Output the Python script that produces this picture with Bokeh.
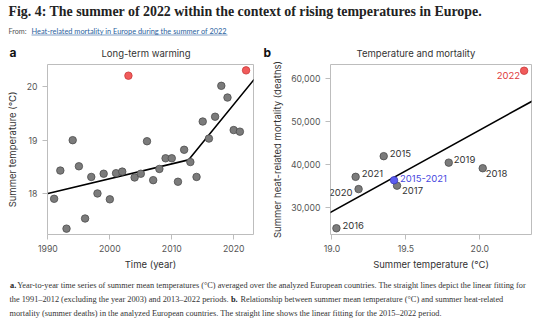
from bokeh.plotting import figure
from bokeh.layouts import column, row
from bokeh.models import ColumnDataSource, Range1d, FixedTicker, NumeralTickFormatter
from bokeh.core.properties import value
from bokeh.embed import file_html
from bokeh.resources import INLINE

# ---------------- data ----------------
years = [1991, 1992, 1993, 1994, 1995, 1996, 1997, 1998, 1999, 2000, 2001, 2002,
         2003, 2004, 2005, 2006, 2007, 2008, 2009, 2010, 2011, 2012, 2013, 2014,
         2015, 2016, 2017, 2018, 2019, 2020, 2021, 2022]
temps = [17.90, 18.43, 17.34, 19.00, 18.51, 17.53, 18.31, 18.00, 18.37, 17.89, 18.38, 18.41,
         20.21, 18.30, 18.37, 18.98, 18.25, 18.46, 18.66, 18.66, 18.22, 18.82, 18.59, 18.31,
         19.35, 19.03, 19.44, 20.02, 19.80, 19.19, 19.16, 20.31]
highlight_years = [2003, 2022]

fit_a_years = [1990.0, 2012.7, 2023.3]
fit_a_temps = [18.00, 18.63, 20.14]

b_labels = ["2015", "2016", "2017", "2018", "2019", "2020", "2021"]
b_temps = [19.35, 19.03, 19.44, 20.02, 19.79, 19.18, 19.16]
b_deaths = [41900, 25150, 35050, 39100, 40400, 34250, 37100]
b2022_temp = [20.30]
b2022_deaths = [61750]
bmean_label = ["2015-2021"]
bmean_temp = [19.42]
bmean_deaths = [36300]

fit_b_temps = [18.95, 20.40]
fit_b_deaths = [28100, 55550]

# ---------------- styles ----------------
FONT = "Inter"
GREY_FILL = "#7b7b7b"
GREY_LINE = "#4d4d4d"
RED_FILL = "#f15b5b"
RED_LINE = "#c93a3a"
BLUE_FILL = "#5c5cf0"
BLUE_LINE = "#3a3ab8"
TXT = "#333333"
FRAME = "#bdbdbd"


def style_axes(p):
    p.outline_line_color = FRAME
    p.outline_line_width = 1
    p.grid.visible = False
    for ax in (p.xaxis[0], p.yaxis[0]):
        ax.axis_line_color = None
        ax.major_tick_line_color = FRAME
        ax.major_tick_out = 5
        ax.major_tick_in = 0
        ax.minor_tick_line_color = None
        ax.major_label_text_font = FONT
        ax.major_label_text_font_size = "8.7px"
        ax.major_label_text_color = "#555555"
        ax.axis_label_text_font = FONT
        ax.axis_label_text_font_size = "9.5px"
        ax.axis_label_text_font_style = "normal"
        ax.axis_label_text_color = TXT
        ax.major_label_standoff = 5


# ---------------- header ----------------
HDR_H = 62
hdr = figure(width=537, height=HDR_H, x_range=Range1d(0, 537), y_range=Range1d(HDR_H, 0),
             output_backend="svg", toolbar_location=None, min_border=0)
hdr.axis.visible = False
hdr.grid.visible = False
hdr.outline_line_color = None
hdr.text(x=[8], y=[11], text=["Fig. 4: The summer of 2022 within the context of rising temperatures in Europe."],
         text_font=value("Liberation Serif"), text_font_style="bold", text_font_size="13.9px",
         text_color="#222222", text_baseline="middle", text_align="left")
hdr.text(x=[8], y=[31], text=["From:"], text_font=value("Lato"), text_font_size="7.2px",
         text_color="#555555", text_baseline="middle")
hdr.text(x=[31], y=[31], text=["Heat-related mortality in Europe during the summer of 2022"],
         text_font=value("Lato"), text_font_size="7.4px", text_color="#2b5f9e", text_baseline="middle")
hdr.segment(x0=[31], y0=[34.5], x1=[227], y1=[34.5], line_color="#2b5f9e", line_width=0.6)
hdr.text(x=[9, 263], y=[52, 52], text=["a", "b"], text_font=value("Inter"), text_font_style="bold",
         text_font_size="12px", text_color="#111111", text_baseline="middle")
hdr.text(x=[145.5, 415.5], y=[52.5, 52.5], text=["Long-term warming", "Temperature and mortality"],
         text_font=value(FONT), text_font_size="9.5px", text_color=TXT,
         text_baseline="middle", text_align="center")

# ---------------- panel a ----------------
pa = figure(width=268, height=210, x_range=Range1d(1989.93, 2023.2), y_range=Range1d(17.23, 20.42),
            output_backend="svg", toolbar_location=None,
            min_border_left=47, min_border_right=15, min_border_top=2, min_border_bottom=34)
style_axes(pa)
pa.xaxis.ticker = FixedTicker(ticks=[1990, 2000, 2010, 2020])
pa.yaxis.ticker = FixedTicker(ticks=[18, 19, 20])
pa.xaxis.axis_label = "Time (year)"
pa.yaxis.axis_label = "Summer temperature (°C)"
pa.xaxis.axis_label_standoff = 4
pa.yaxis.axis_label_standoff = 6

pa.line(fit_a_years, fit_a_temps, line_color="black", line_width=1.6)
norm = [(y, t) for y, t in zip(years, temps) if y not in highlight_years]
hi = [(y, t) for y, t in zip(years, temps) if y in highlight_years]
pa.scatter([y for y, _ in norm], [t for _, t in norm], size=7.5, fill_color=GREY_FILL,
           line_color=GREY_LINE, line_width=0.8)
pa.scatter([y for y, _ in hi], [t for _, t in hi], size=7.5, fill_color=RED_FILL,
           line_color=RED_LINE, line_width=0.8)

# ---------------- panel b ----------------
pb = figure(width=269, height=210, x_range=Range1d(18.99, 20.35), y_range=Range1d(23700, 63200),
            output_backend="svg", toolbar_location=None,
            min_border_left=57, min_border_right=6, min_border_top=2, min_border_bottom=34)
style_axes(pb)
pb.xaxis.ticker = FixedTicker(ticks=[19.0, 19.5, 20.0])
pb.xaxis.formatter = NumeralTickFormatter(format="0.0")
pb.yaxis.ticker = FixedTicker(ticks=[30000, 40000, 50000, 60000])
pb.yaxis.formatter = NumeralTickFormatter(format="0,0")
pb.xaxis.axis_label = "Summer temperature (°C)"
pb.yaxis.axis_label = "Summer heat-related mortality (deaths)"
pb.xaxis.axis_label_standoff = 4
pb.yaxis.axis_label_standoff = 5

pb.line(fit_b_temps, fit_b_deaths, line_color="black", line_width=1.6)
pb.scatter(b_temps, b_deaths, size=7.5, fill_color=GREY_FILL, line_color=GREY_LINE, line_width=0.8)
pb.scatter(bmean_temp, bmean_deaths, size=7.5, fill_color=BLUE_FILL, line_color=BLUE_LINE, line_width=0.8)
pb.scatter(b2022_temp, b2022_deaths, size=7.5, fill_color=RED_FILL, line_color=RED_LINE, line_width=0.8)

# label offsets (screen pixels, +y is down) : style only
off = {"2015": (6, -3), "2016": (6, -3), "2017": (5, 5), "2018": (3, 5),
       "2019": (5, -3), "2020": (-6, 3), "2021": (6, -3)}
left_lbl = [l for l in b_labels if off[l][0] > 0]
src_l = ColumnDataSource(dict(
    x=[b_temps[b_labels.index(l)] for l in left_lbl],
    y=[b_deaths[b_labels.index(l)] for l in left_lbl],
    t=left_lbl, dx=[off[l][0] for l in left_lbl], dy=[off[l][1] for l in left_lbl]))
pb.text(x="x", y="y", text="t", x_offset="dx", y_offset="dy", source=src_l,
        text_font=value(FONT), text_font_size="9.5px", text_color=TXT,
        text_baseline="middle", text_align="left")
right_lbl = [l for l in b_labels if off[l][0] < 0]
src_r = ColumnDataSource(dict(
    x=[b_temps[b_labels.index(l)] for l in right_lbl],
    y=[b_deaths[b_labels.index(l)] for l in right_lbl],
    t=right_lbl, dx=[off[l][0] for l in right_lbl], dy=[off[l][1] for l in right_lbl]))
pb.text(x="x", y="y", text="t", x_offset="dx", y_offset="dy", source=src_r,
        text_font=value(FONT), text_font_size="9.5px", text_color=TXT,
        text_baseline="middle", text_align="right")
pb.text(x=b2022_temp, y=b2022_deaths, text=["2022"], x_offset=-4, y_offset=5,
        text_font=value(FONT), text_font_size="9.5px", text_color="#e03c3c",
        text_baseline="middle", text_align="right")
pb.text(x=bmean_temp, y=bmean_deaths, text=bmean_label, x_offset=6, y_offset=-2,
        text_font=value(FONT), text_font_size="9.5px", text_color="#4848e0",
        text_baseline="middle", text_align="left")

# ---------------- footer ----------------
ftr = figure(width=537, height=51, x_range=Range1d(0, 537), y_range=Range1d(51, 0),
             output_backend="svg", toolbar_location=None, min_border=0)
ftr.axis.visible = False
ftr.grid.visible = False
ftr.outline_line_color = None
CAP_FONT = value("Liberation Serif")
CAP_SIZE = "8.3px"
ftr.text(x=[9.5, 230.5], y=[13.3, 27.3], text=["a.", "b."], text_font=CAP_FONT, text_font_style="bold",
         text_font_size=CAP_SIZE, text_color="#222222", text_baseline="middle")
ftr.text(x=[16.7, 9, 240, 9], y=[13.3, 27.3, 27.3, 40.7],
         text=["Year-to-year time series of summer mean temperatures (°C) averaged over the analyzed European countries. The straight lines depict the linear fitting for",
               "the 1991–2012 (excluding the year 2003) and 2013–2022 periods.",
               "Relationship between summer mean temperature (°C) and summer heat-related",
               "mortality (summer deaths) in the analyzed European countries. The straight line shows the linear fitting for the 2015–2022 period."],
         text_font=CAP_FONT, text_font_size=CAP_SIZE, text_color="#333333", text_baseline="middle")

layout = column(hdr, row(pa, pb), ftr)
open("out.html", "w").write(file_html(layout, INLINE))
